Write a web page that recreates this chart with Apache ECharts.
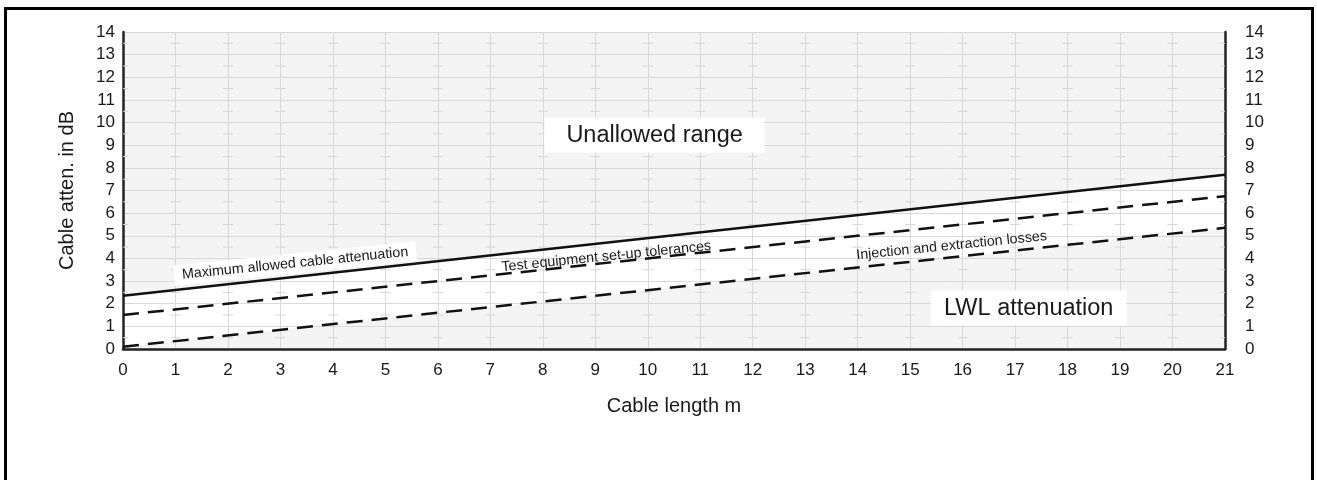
<!DOCTYPE html>
<html>
<head>
<meta charset="utf-8">
<script src="https://cdn.jsdelivr.net/npm/echarts@6/dist/echarts.min.js"></script>
<style>
  html, body { margin: 0; padding: 0; background: #ffffff; }
  #chart { width: 1317px; height: 480px; }
</style>
</head>
<body>
<div id="chart"></div>
<script>
// ---- Data ----
const xTickLabels = [0, 1, 2, 3, 4, 5, 6, 7, 8, 9, 10, 11, 12, 13, 14, 15, 16, 17, 18, 19, 20, 21];
const yTickLabels = [0, 1, 2, 3, 4, 5, 6, 7, 8, 9, 10, 11, 12, 13, 14];
const cableLength = [0, 21];
const maxAllowedAttenuation = [2.35, 7.7];
const testEquipmentTolerance = [1.5, 6.75];
const injectionExtractionLoss = [0.1, 5.35];

const regionLabels = ['Unallowed range', 'LWL attenuation'];
const lineLabels = ['Maximum allowed cable attenuation', 'Test equipment set-up tolerances', 'Injection and extraction losses'];

// ---- Layout / annotation anchors (data coordinates) ----
const regionAnchors = [[10.13, 9.44], [17.26, 1.81]];
const lineLabelAnchors = [[3.28, 3.78], [9.21, 4.08], [15.79, 4.56]];

const FONT = 'Liberation Sans, Arial, Helvetica, sans-serif';
const TXT = '#1a1a1a';

const halfMarks = [];
xTickLabels.forEach(x => {
  yTickLabels.slice(0, -1).forEach(y => halfMarks.push([x, y + 0.5]));
});

const chart = echarts.init(document.getElementById('chart'), null, { renderer: 'canvas' });

const option = {
  animation: false,
  backgroundColor: '#ffffff',
  textStyle: { fontFamily: FONT },
  grid: {
    left: 123, right: 92, top: 32, bottom: 131,
    show: true, backgroundColor: '#f4f4f4', borderWidth: 0
  },
  xAxis: {
    type: 'value', min: 0, max: 21, interval: 1, z: 2,
    name: 'Cable length m', nameLocation: 'middle', nameGap: 47,
    nameTextStyle: { fontSize: 20, color: TXT, fontFamily: FONT },
    axisLine: { show: true, onZero: false, lineStyle: { color: '#222', width: 2.5 } },
    axisTick: { show: false },
    axisLabel: { fontSize: 17, color: TXT, margin: 13, fontFamily: FONT,
      formatter: v => String(v) },
    splitLine: { show: true, lineStyle: { color: '#d9d9d9', width: 1 } }
  },
  yAxis: [
    {
      type: 'value', min: 0, max: 14, interval: 1, position: 'left', z: 2,
      name: 'Cable atten. in dB', nameLocation: 'middle', nameGap: 46, nameRotate: 90,
      nameTextStyle: { fontSize: 20, color: TXT, fontFamily: FONT },
      axisLine: { show: true, onZero: false, lineStyle: { color: '#222', width: 2.5 } },
      axisTick: { show: false },
      axisLabel: { fontSize: 17, color: TXT, margin: 8, fontFamily: FONT },
      splitLine: { show: true, lineStyle: { color: '#d9d9d9', width: 1 } }
    },
    {
      type: 'value', min: 0, max: 14, interval: 1, position: 'right', z: 2,
      axisLine: { show: true, onZero: false, lineStyle: { color: '#222', width: 2.5 } },
      axisTick: { show: false },
      axisLabel: { fontSize: 17, color: TXT, margin: 20, fontFamily: FONT },
      splitLine: { show: false }
    }
  ],
  series: [
    {
      type: 'line', name: 'allowedBand', z: 1, zlevel: 0,
      data: cableLength.map((x, i) => [x, maxAllowedAttenuation[i]]),
      symbol: 'none', lineStyle: { width: 0, opacity: 0 },
      areaStyle: { color: '#ffffff', opacity: 1, origin: 'start' }, silent: true
    },
    {
      type: 'line', name: 'lwlBand', z: 1.5, zlevel: 0,
      data: cableLength.map((x, i) => [x, injectionExtractionLoss[i]]),
      symbol: 'none', lineStyle: { width: 0, opacity: 0 },
      areaStyle: { color: '#f4f4f4', opacity: 1, origin: 'start' }, silent: true
    },
    {
      type: 'custom', z: 3, silent: true,
      data: halfMarks,
      renderItem: function (params, api) {
        const p = api.coord([api.value(0), api.value(1)]);
        const cs = params.coordSys;
        const x1 = Math.max(cs.x, p[0] - 5);
        const x2 = Math.min(cs.x + cs.width, p[0] + 5);
        return {
          type: 'line',
          shape: { x1: x1, y1: p[1], x2: x2, y2: p[1] },
          style: { stroke: '#d6d6d6', lineWidth: 1 }
        };
      }
    },
    {
      type: 'line', name: lineLabels[0], z: 5,
      data: cableLength.map((x, i) => [x, maxAllowedAttenuation[i]]),
      symbol: 'none', lineStyle: { color: '#111', width: 2.5, type: 'solid' }
    },
    {
      type: 'line', name: lineLabels[1], z: 5,
      data: cableLength.map((x, i) => [x, testEquipmentTolerance[i]]),
      symbol: 'none', lineStyle: { color: '#111', width: 2.5, type: [16, 9] }
    },
    {
      type: 'line', name: lineLabels[2], z: 5,
      data: cableLength.map((x, i) => [x, injectionExtractionLoss[i]]),
      symbol: 'none', lineStyle: { color: '#111', width: 2.5, type: [16, 9] }
    },
    {
      type: 'scatter', z: 4, silent: true, symbolSize: 0,
      itemStyle: { opacity: 1 },
      data: [
        { value: lineLabelAnchors[0], name: lineLabels[0],
          label: { backgroundColor: '#ffffff', padding: [3, 8] } },
        { value: lineLabelAnchors[1], name: lineLabels[1] },
        { value: lineLabelAnchors[2], name: lineLabels[2] }
      ],
      label: {
        show: true, position: 'inside', formatter: '{b}', rotate: 5.8, opacity: 1,
        fontSize: 14.3, color: TXT, fontFamily: FONT, align: 'center', verticalAlign: 'middle'
      }
    },
    {
      type: 'scatter', z: 6, silent: true, symbolSize: 0,
      itemStyle: { opacity: 1 },
      data: [
        { value: regionAnchors[0], name: regionLabels[0],
          label: { padding: [6, 22, 5, 22] } },
        { value: regionAnchors[1], name: regionLabels[1],
          label: { padding: [6, 13, 5, 13] } }
      ],
      label: {
        show: true, position: 'inside', formatter: '{b}', opacity: 1,
        fontSize: 23.5, color: TXT, fontFamily: FONT, backgroundColor: '#ffffff',
        align: 'center', verticalAlign: 'middle'
      }
    }
  ],
  graphic: [
    {
      type: 'rect', silent: true, z: 100,
      shape: { x: 5.5, y: 8.5, width: 1307, height: 480 },
      style: { fill: 'none', stroke: '#000', lineWidth: 3 }
    }
  ]
};

chart.setOption(option);
</script>
</body>
</html>
